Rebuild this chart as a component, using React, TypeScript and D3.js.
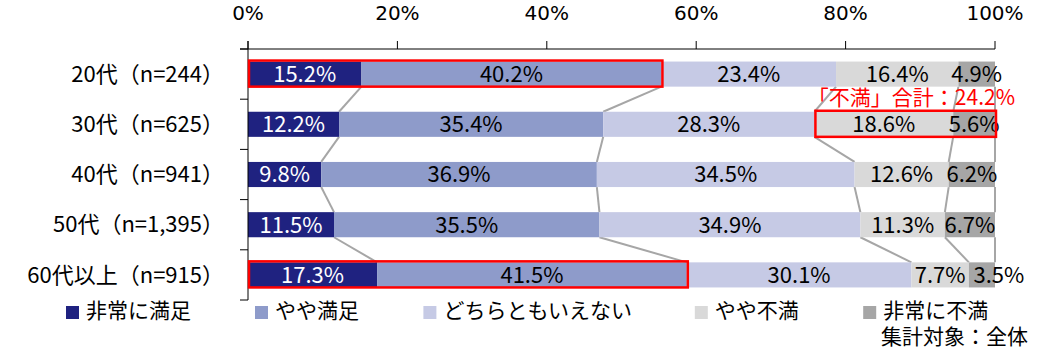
import * as d3 from "d3";

const categories = ["20代（n=244）", "30代（n=625）", "40代（n=941）", "50代（n=1,395）", "60代以上（n=915）"];
const seriesNames = ["非常に満足", "やや満足", "どちらともいえない", "やや不満", "非常に不満"];
const verySatisfied = [15.2, 12.2, 9.8, 11.5, 17.3];
const somewhatSatisfied = [40.2, 35.4, 36.9, 35.5, 41.5];
const neutral = [23.4, 28.3, 34.5, 34.9, 30.1];
const somewhatDissatisfied = [16.4, 18.6, 12.6, 11.3, 7.7];
const veryDissatisfied = [4.9, 5.6, 6.2, 6.7, 3.5];
const xTicks = [0, 0.2, 0.4, 0.6, 0.8, 1];

const colors = ["#1f2280", "#8e9bca", "#c6cae5", "#d9d9d9", "#a6a6a6"];
const latin = "'DejaVu Sans', 'Noto Sans CJK JP', sans-serif";
const jp = "'Noto Sans CJK JP', sans-serif";

const columns = [verySatisfied, somewhatSatisfied, neutral, somewhatDissatisfied, veryDissatisfied];
const rows = categories.map((c, i) => {
  const r: any = { cat: c };
  seriesNames.forEach((s, j) => (r[s] = columns[j][i]));
  return r;
});

// highlighted boxes: [row, first series, last series]
const boxes: [number, number, number][] = [[0, 0, 1], [4, 0, 1], [1, 3, 4]];
// manual label nudges like in the original
const nudge: Record<string, number> = { "4|4": 17 };

export default function App() {
  const width = 1045, height = 351;
  const x = d3.scaleLinear().domain([0, 1]).range([248, 995]);
  const y = d3.scaleBand().domain(categories).range([49, 300]).paddingInner(0.5).paddingOuter(0.25);
  const stacked = d3.stack<any>().keys(seriesNames).offset(d3.stackOffsetExpand)(rows);
  const bw = y.bandwidth();
  const step = y.step();

  // boundaries per row: after each series
  const bounds = categories.map((_, i) => stacked.map((s) => s[i][1]));

  const dissatTotal = somewhatDissatisfied[1] + veryDissatisfied[1];

  // legend layout
  let lx = 66;
  const legend = seriesNames.map((s) => {
    const item = { name: s, x: lx };
    lx += 13 + 7 + s.length * 20.6 + 66;
    return item;
  });

  return (
    <svg width={width} height={height} style={{ position: "absolute", left: 0, top: 0 }} fontFamily={jp}>
      <rect width={width} height={height} fill="#fff" />
      {/* connectors */}
      {categories.slice(0, -1).map((c, i) =>
        bounds[i].map((b, j) => (
          <line
            key={c + j}
            x1={x(b)}
            y1={y(c)! + bw}
            x2={x(bounds[i + 1][j])}
            y2={y(categories[i + 1])!}
            stroke="#a6a6a6"
            strokeWidth={2}
          />
        ))
      )}
      {/* bars */}
      {stacked.map((s, j) => (
        <g key={s.key} fill={colors[j]}>
          {s.map((d, i) => (
            <rect key={i} x={x(d[0])} y={y(categories[i])} width={x(d[1]) - x(d[0])} height={bw} />
          ))}
        </g>
      ))}
      {/* axes */}
      <line x1={240} x2={x(1)} y1={49} y2={49} stroke="#000" />
      <line x1={x(0)} x2={x(0)} y1={41} y2={49 + step * categories.length} stroke="#000" />
      {xTicks.map((t) => (
        <g key={t}>
          <line x1={x(t)} x2={x(t)} y1={41} y2={49} stroke="#000" />
          <text x={x(t)} y={20} textAnchor="middle" fontSize={20} fontFamily={latin} fill="#000">
            {d3.format(".0%")(t)}
          </text>
        </g>
      ))}
      {d3.range(categories.length + 1).map((k) => (
        <line key={k} x1={240} x2={x(0)} y1={49 + k * step} y2={49 + k * step} stroke="#000" />
      ))}
      {categories.map((c) => (
        <text key={c} x={224} y={y(c)! + bw / 2} dy="0.35em" textAnchor="end" fontSize={22} fill="#000">
          {c}
        </text>
      ))}
      {/* value labels */}
      {stacked.map((s, j) =>
        s.map((d, i) => (
          <text
            key={j + "-" + i}
            x={(x(d[0]) + x(d[1])) / 2 + (nudge[i + "|" + j] || 0)}
            y={y(categories[i])! + bw / 2}
            dy="0.36em"
            textAnchor="middle"
            fontSize={22}
            fill={j === 0 ? "#fff" : "#000"}
          >
            {columns[j][i].toFixed(1)}%
          </text>
        ))
      )}
      {/* highlight boxes */}
      {boxes.map(([r, a, b], k) => {
        const d0 = stacked[a][r][0];
        const d1 = stacked[b][r][1];
        return (
          <rect
            key={k}
            x={x(d0) + 1}
            y={y(categories[r])! - 1}
            width={x(d1) - x(d0)}
            height={bw + 1}
            fill="none"
            stroke="#ff0000"
            strokeWidth={2.5}
          />
        );
      })}
      <text x={1015} y={98} dy="0.35em" textAnchor="end" fontSize={21} fill="#ff0000">
        「不満」合計：{dissatTotal.toFixed(1)}%
      </text>
      {/* legend */}
      {legend.map((l, j) => (
        <g key={l.name}>
          <rect x={l.x} y={306} width={13} height={13} fill={colors[j]} />
          <text x={l.x + 20} y={311} dy="0.35em" fontSize={21} fill="#000">
            {l.name}
          </text>
        </g>
      ))}
      <text x={881} y={337} dy="0.35em" fontSize={21} fill="#000">
        集計対象：全体
      </text>
    </svg>
  );
}
